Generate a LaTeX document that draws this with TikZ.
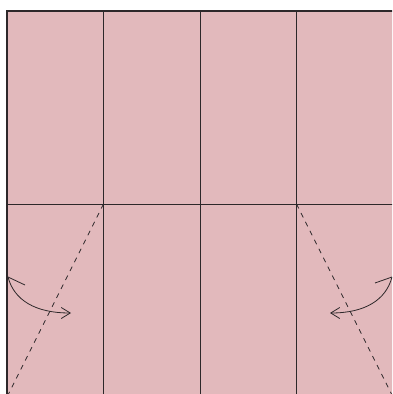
\documentclass[tikz,border=0pt]{standalone}
\usetikzlibrary{arrows.meta}
\definecolor{paper}{RGB}{226,185,188}
\definecolor{ink}{RGB}{45,40,42}
\begin{document}
\begin{tikzpicture}[x=1pt,y=-1pt,
  crease/.style={draw=ink,line width=0.8pt},
  edge/.style={draw=ink,line width=1.5pt},
  fold/.style={draw=ink,line width=0.7pt,dash pattern=on 5pt off 5pt},
  barb/.style={draw=ink,line width=0.8pt},
  foldarrow/.style={draw=ink,line width=0.8pt,-{Straight Barb[length=9pt,width=11pt]}}]
\useasboundingbox (0,0) rectangle (392,394);
\begin{scope}
\clip (0,0) rectangle (392,394);
\fill[paper] (7,11) rectangle (393,397);
\coordinate (c1t) at (103.5,11);
\coordinate (c1b) at (103.5,397);
\coordinate (c2t) at (200,11);
\coordinate (c2b) at (200,397);
\coordinate (c3t) at (296.5,11);
\coordinate (c3b) at (296.5,397);
\coordinate (hl) at (7,204);
\coordinate (hr) at (393,204);
\coordinate (pl) at (103.5,204);
\coordinate (pr) at (296.5,204);
\coordinate (bl) at (7,397);
\coordinate (br) at (393,397);
\draw[crease] (c1t) -- (c1b);
\draw[crease] (c2t) -- (c2b);
\draw[crease] (c3t) -- (c3b);
\draw[crease] (hl) -- (hr);
\draw[fold] (pl) -- (bl);
\draw[fold] (pr) -- (br);
\coordinate (al1) at (8,277);
\coordinate (al2) at (71,313);
\coordinate (alb) at (25,285);
\draw[foldarrow] (al1) .. controls (14,300) and (35,313) .. (al2);
\draw[barb] (al1) -- (alb);
\coordinate (ar1) at (392,277);
\coordinate (ar2) at (330,313);
\coordinate (arb) at (375,283);
\draw[foldarrow] (ar1) .. controls (386,300) and (365,313) .. (ar2);
\draw[barb] (ar1) -- (arb);
\draw[edge] (7,397) -- (7,11) -- (393,11);
\end{scope}
\end{tikzpicture}
\end{document}
